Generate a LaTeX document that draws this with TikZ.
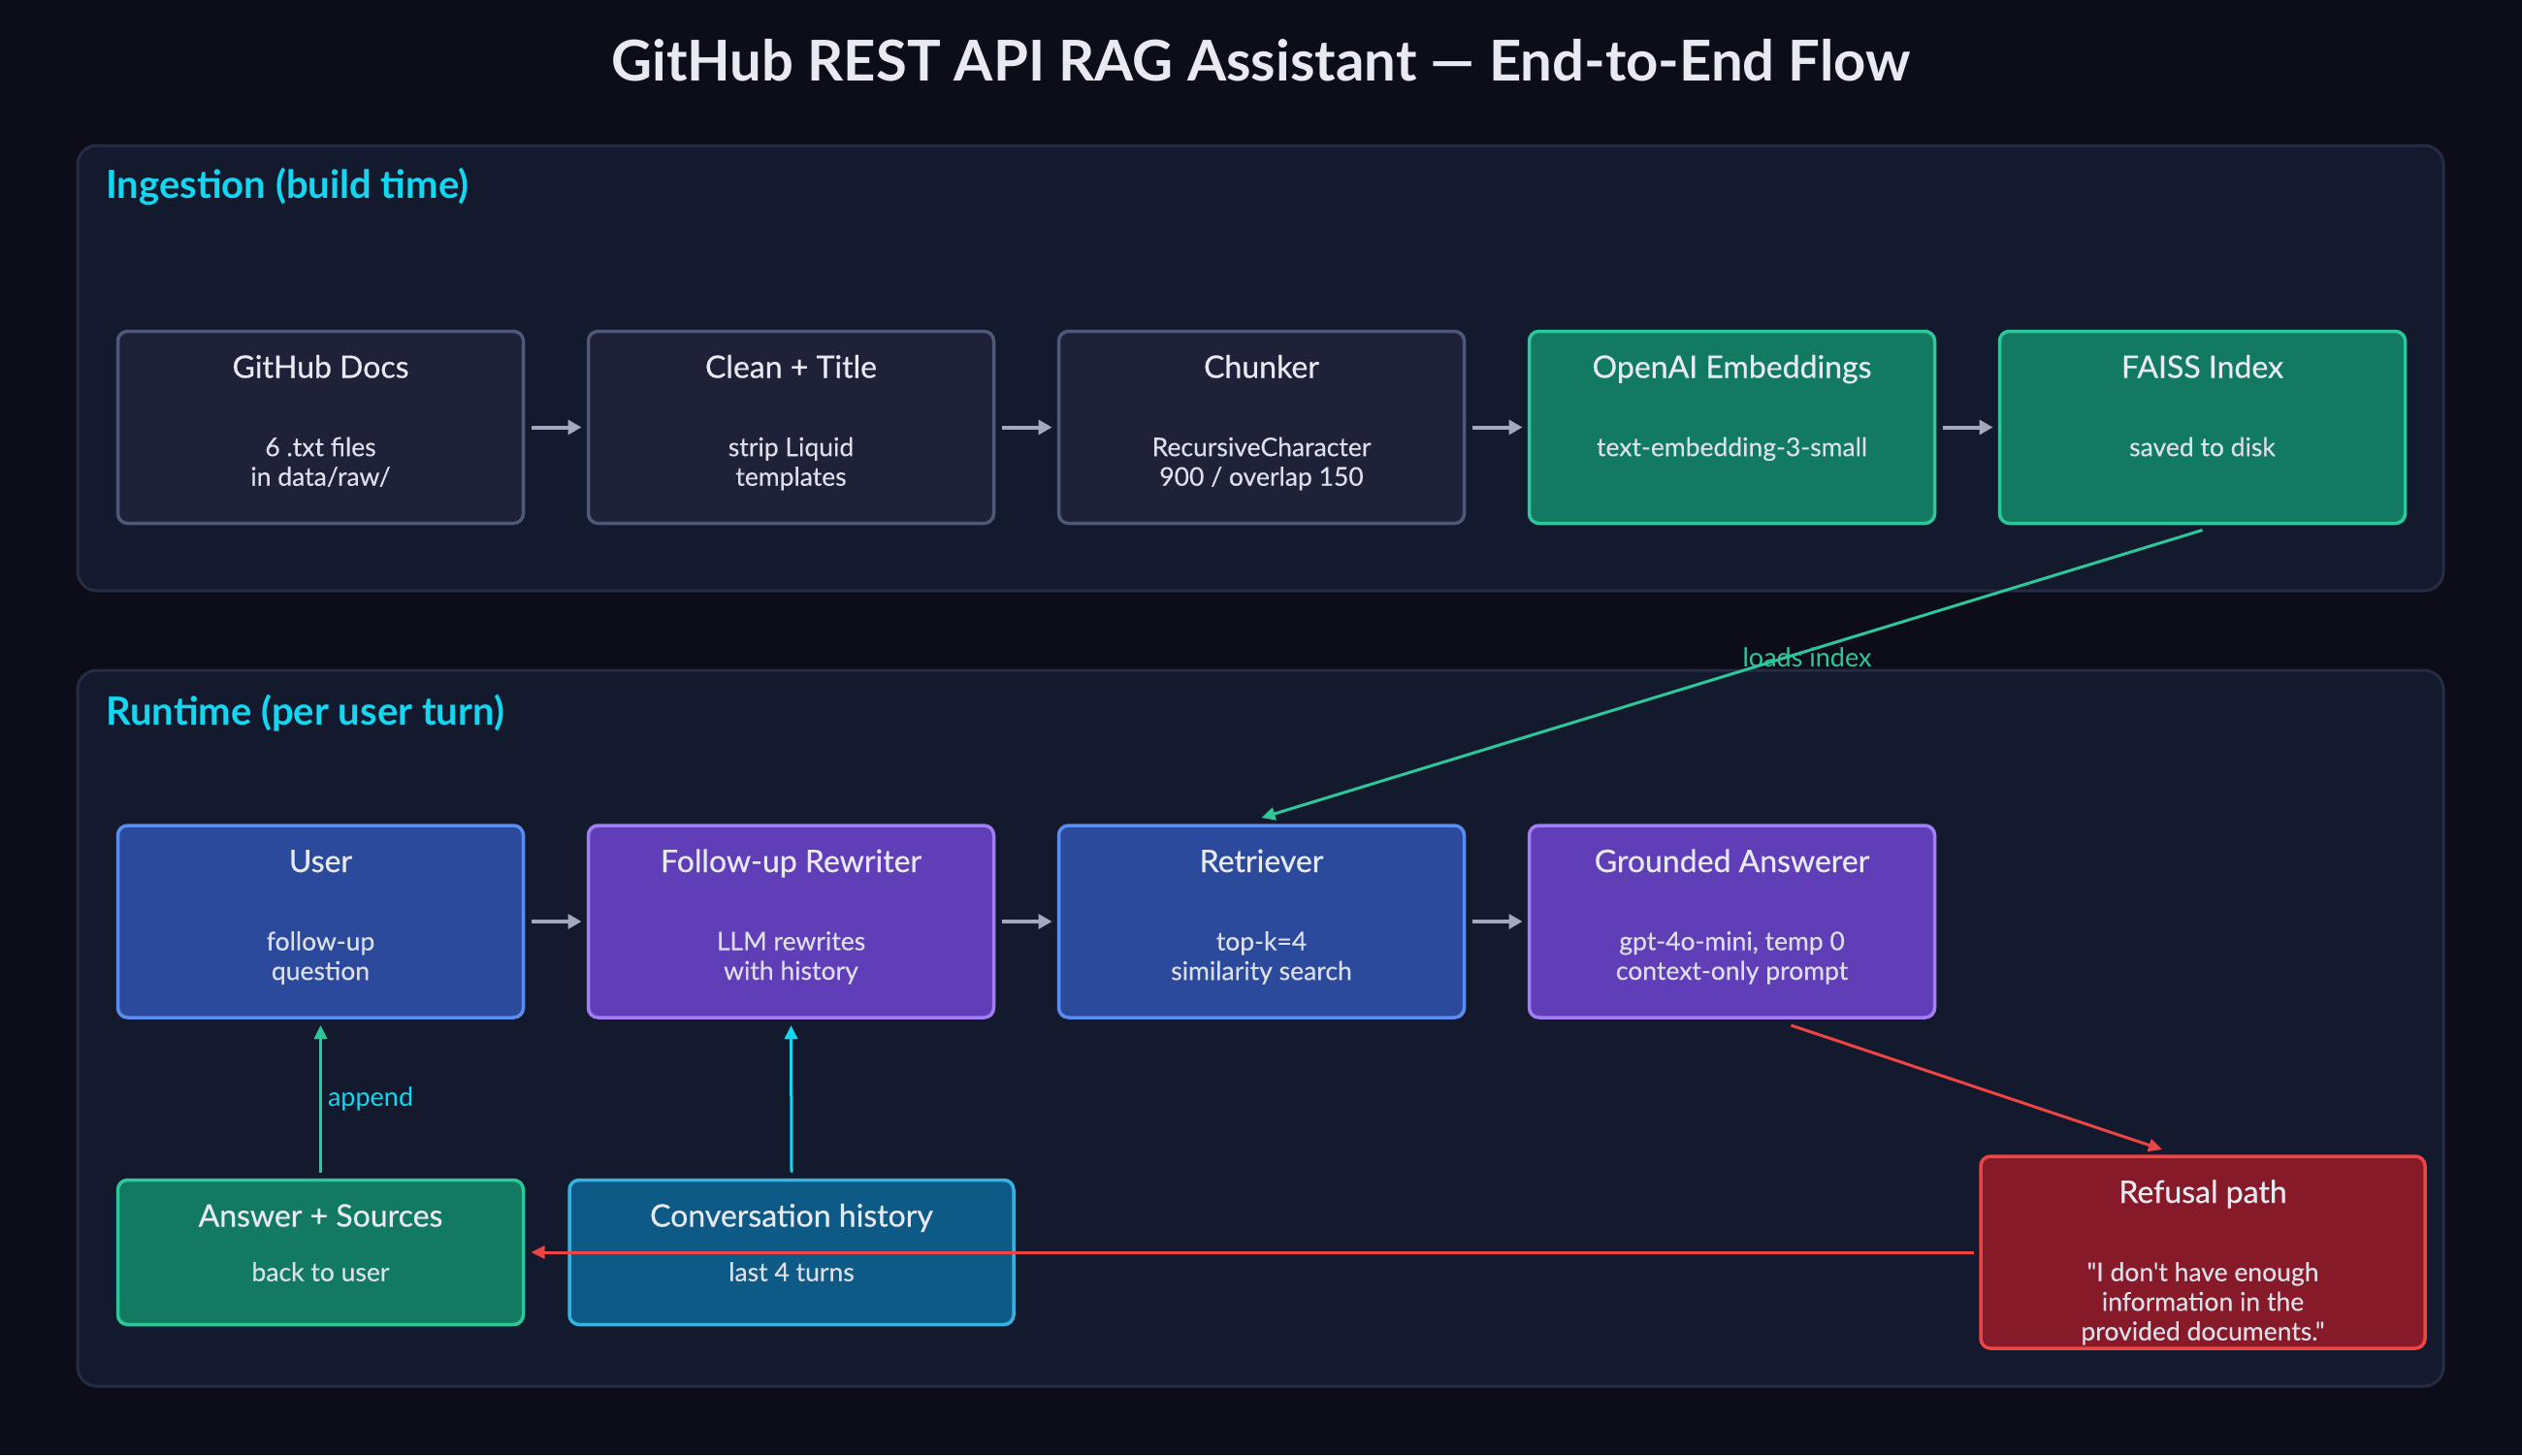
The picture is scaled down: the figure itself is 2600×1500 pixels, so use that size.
\documentclass[tikz,border=0pt]{standalone}
\usepackage{fontspec}
\setmainfont{Lato}
\newfontfamily\latomed{Lato}[FakeBold=0.5]
\newfontfamily\latoraw{Lato}[Ligatures=TeXOff, FakeBold=0.2]
\usetikzlibrary{arrows.meta, positioning}
\definecolor{cbg}{HTML}{0C0D18}
\definecolor{cpanel}{HTML}{131A2E}
\definecolor{cpanelline}{HTML}{262C44}
\definecolor{greyfill}{HTML}{1E2138}
\definecolor{greyline}{HTML}{4E5878}
\definecolor{greenfill}{HTML}{117A61}
\definecolor{greenline}{HTML}{2EC79A}
\definecolor{bluefill}{HTML}{2C4A9C}
\definecolor{blueline}{HTML}{5B8CF0}
\definecolor{purplefill}{HTML}{5F3EB8}
\definecolor{purpleline}{HTML}{A27EF5}
\definecolor{skyfill}{HTML}{0C5A85}
\definecolor{skyline}{HTML}{38B2E0}
\definecolor{redfill}{HTML}{861A28}
\definecolor{redline}{HTML}{EF4444}
\definecolor{ccyan}{HTML}{14D6F0}
\definecolor{cgrey}{HTML}{A4A8BC}
\definecolor{ctext}{HTML}{E8EAF2}
\definecolor{csub}{HTML}{DDE0EA}
\tikzset{
  title/.style={font=\bfseries\fontsize{58}{66}\selectfont, text=ctext, anchor=base, inner sep=0pt},
  panel/.style={draw=cpanelline, fill=cpanel, rounded corners=20pt, line width=3pt, outer sep=0pt, minimum width=2439pt},
  stage/.style={font=\bfseries\fontsize{40}{46}\selectfont, text=ccyan, anchor=base west, inner sep=0pt},
  box/.style={draw=#1line, fill=#1fill, rounded corners=10pt, line width=3.5pt, outer sep=0pt, minimum width=418pt, minimum height=198pt},
  box/.default=grey,
  boxtitle/.style={font=\latomed\fontsize{32}{38}\selectfont, text=ctext, anchor=base, inner sep=0pt},
  boxsub/.style={font=\latoraw\fontsize{26.5}{30.5}\selectfont, text=csub, anchor=north, align=center, inner sep=0pt},
  flow/.style={-{Triangle[length=14pt, width=15pt]}, draw=cgrey, line width=4pt},
  link/.style={-{Triangle[length=14pt, width=13pt]}, draw=#1, line width=3pt},
  lbl/.style={font=\fontsize{27}{30}\selectfont},
}
\begin{document}
\begin{tikzpicture}[x=1pt, y=-1pt]
  \fill[cbg] (0,0) rectangle (2600,1500);
  \useasboundingbox (0,0) rectangle (2600,1500);
  \node[title] (head) at (1300,83) {GitHub REST API RAG Assistant — End-to-End Flow};

  % stages
  \node[panel, minimum height=459pt] (ingest) at (1299.5,379.5) {};
  \node[panel, minimum height=738pt] (runtime) at (1299.5,1060) {};
  \node[stage] (ingest-t) at ([xshift=29pt, yshift=-54pt]ingest.north west) {Ingestion (build time)};
  \node[stage] (runtime-t) at ([xshift=29pt, yshift=-56pt]runtime.north west) {Runtime (per user turn)};

  % build time
  \node[box=grey] (docs) at (330.5,440.5) {};
  \node[box=grey, right=67pt of docs] (clean) {};
  \node[box=grey, right=67pt of clean] (chunker) {};
  \node[box=green, right=67pt of chunker] (embed) {};
  \node[box=green, right=67pt of embed] (faiss) {};

  % per turn
  \node[box=blue] (user) at (330.5,950) {};
  \node[box=purple, right=67pt of user] (rewriter) {};
  \node[box=blue, right=67pt of rewriter] (retriever) {};
  \node[box=purple, right=67pt of retriever] (answerer) {};
  \node[box=green, minimum height=149pt] (answer) at (330.5,1291) {};
  \node[box=sky, minimum width=458pt, minimum height=149pt] (history) at (816,1291) {};
  \node[box=red, minimum width=458pt] (refusal) at (2271,1291) {};

  \foreach \n/\t/\s in {docs/GitHub Docs/{6 .txt files\\in data/raw/}, clean/Clean + Title/{strip Liquid\\templates},
                        chunker/Chunker/{RecursiveCharacter\\900 / overlap 150}, embed/OpenAI Embeddings/text-embedding-3-small,
                        faiss/FAISS Index/saved to disk, user/User/{follow-up\\question}, rewriter/Follow-up Rewriter/{LLM rewrites\\with history},
                        retriever/Retriever/{top-k=4\\similarity search}, answerer/Grounded Answerer/{gpt-4o-mini, temp 0\\context-only prompt},
                        answer/Answer + Sources/back to user, history/Conversation history/last 4 turns,
                        refusal/Refusal path/{"I don't have enough\\information in the\\provided documents."}} {
    \node[boxtitle] (\n-t) at ([yshift=-48pt]\n.north) {\t};
    \node[boxsub] (\n-s) at ([yshift=-10pt]\n.center) {\s};
  }

  \foreach \a/\b in {docs/clean, clean/chunker, chunker/embed, embed/faiss, user/rewriter, rewriter/retriever, retriever/answerer}
    \draw[flow] ([xshift=8pt]\a.east) -- ([xshift=-7pt]\b.west);

  \draw[link=greenline] ([yshift=-7pt]faiss.south) -- node[lbl, text=greenline, pos=0.42, yshift=-7pt] (loads) {loads index} ([yshift=8pt]retriever.north);
  \draw[link=greenline] ([yshift=8pt]answer.north) -- node[lbl, text=ccyan, right, inner sep=6pt] (append) {append} ([yshift=-8pt]user.south);
  \draw[link=ccyan] ([yshift=8pt]history.north) -- ([yshift=-8pt]rewriter.south);
  \draw[link=redline] ([xshift=61pt, yshift=-8pt]answerer.south) -- ([xshift=-42pt, yshift=7pt]refusal.north);
  \draw[link=redline] ([xshift=-7pt]refusal.west) -- ([xshift=8pt]answer.east);
\end{tikzpicture}
\end{document}
